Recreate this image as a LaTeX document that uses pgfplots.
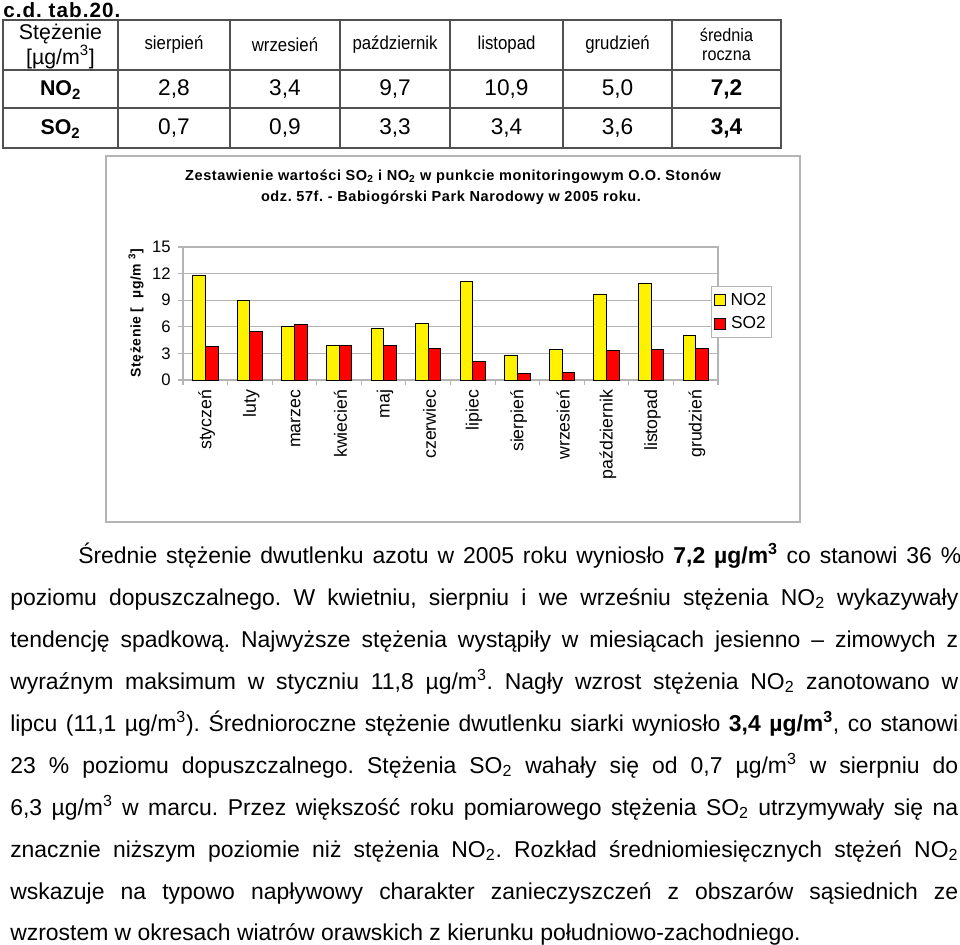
\documentclass[border=0pt]{standalone}
\usepackage{pgfplots}
\pgfplotsset{compat=1.18}
\usepackage{fontspec}
\setmainfont{Liberation Sans}
\newfontfamily\spb{Liberation Sans}[LetterSpace=4]
\newfontfamily\spc{Liberation Sans}[LetterSpace=5]
\newfontfamily\narrow{Liberation Sans}[FakeStretch=0.9]
\definecolor{gridgray}{HTML}{B4B4B4}
\definecolor{tabline}{HTML}{505050}
\newcommand{\ug}{\textmu g/m\textsuperscript{3}}
\frenchspacing
\begin{document}
\begin{tikzpicture}
\path[use as bounding box] (0,0) rectangle (720pt,-708.75pt);
\begin{scope}[x=0.75pt,y=-0.75pt]
% ---------- table ----------
\node[anchor=base west,inner sep=0pt,font=\spc\bfseries\fontsize{15.5}{17}\selectfont] at (3,17.5) {c.d. tab.20.};
\draw[tabline,line width=1.5pt] (3,20) rectangle (781,148);
\foreach \xx in {118,230,340,450,563,672} \draw[tabline,line width=0.8pt] (\xx,20) -- (\xx,148);
\foreach \yy in {70,108} \draw[tabline,line width=0.8pt] (3,\yy) -- (781,\yy);
\begin{scope}[every node/.style={inner sep=0pt}]
\node[font=\fontsize{16}{18}\selectfont] at (60.5,34) {Stężenie};
\node[font=\fontsize{16}{18}\selectfont] at (60.5,57) {[\ug]};
\node[font=\narrow\fontsize{14}{16}\selectfont] at (174,45) {sierpień};
\node[font=\narrow\fontsize{14}{16}\selectfont] at (285,45) {wrzesień};
\node[font=\narrow\fontsize{14}{16}\selectfont] at (395,45) {październik};
\node[font=\narrow\fontsize{14}{16}\selectfont] at (506.5,45) {listopad};
\node[font=\narrow\fontsize{14}{16}\selectfont] at (617.5,45) {grudzień};
\node[font=\narrow\fontsize{13.5}{16}\selectfont] at (726.5,35) {średnia};
\node[font=\narrow\fontsize{13.5}{16}\selectfont] at (726.5,56) {roczna};
\node[font=\bfseries\fontsize{16}{18}\selectfont] at (60.5,90) {NO\textsubscript{2}};
\node[font=\fontsize{17}{19}\selectfont] at (174,89) {2,8};
\node[font=\fontsize{17}{19}\selectfont] at (285,89) {3,4};
\node[font=\fontsize{17}{19}\selectfont] at (395,89) {9,7};
\node[font=\fontsize{17}{19}\selectfont] at (506.5,89) {10,9};
\node[font=\fontsize{17}{19}\selectfont] at (617.5,89) {5,0};
\node[font=\bfseries\fontsize{17}{19}\selectfont] at (726.5,89) {7,2};
\node[font=\bfseries\fontsize{16}{18}\selectfont] at (60.5,129) {SO\textsubscript{2}};
\node[font=\fontsize{17}{19}\selectfont] at (174,128) {0,7};
\node[font=\fontsize{17}{19}\selectfont] at (285,128) {0,9};
\node[font=\fontsize{17}{19}\selectfont] at (395,128) {3,3};
\node[font=\fontsize{17}{19}\selectfont] at (506.5,128) {3,4};
\node[font=\fontsize{17}{19}\selectfont] at (617.5,128) {3,6};
\node[font=\bfseries\fontsize{17}{19}\selectfont] at (726.5,128) {3,4};
\end{scope}
% ---------- chart frame and titles ----------
\draw[gridgray,line width=1.2pt] (106,156) rectangle (800,522);
\node[font=\spb\bfseries\fontsize{10.9}{12}\selectfont,inner sep=0pt] at (453,177) {Zestawienie wartości SO\textsubscript{2} i NO\textsubscript{2} w punkcie monitoringowym O.O. Stonów};
\node[font=\spb\bfseries\fontsize{10.9}{12}\selectfont,inner sep=0pt] at (451,198) {odz. 57f. - Babiogórski Park Narodowy w 2005 roku.};
\node[rotate=90,font=\spb\bfseries\fontsize{10.5}{12}\selectfont,inner sep=0pt] at (136,313) {Stężenie [ \ \textmu g/m \textsuperscript{3}]};
% ---------- paragraph ----------
\begin{scope}[every node/.style={anchor=base west,inner sep=0pt,font=\fontsize{17.2}{20}\selectfont}]
\node at (78,563) {\makebox[662.25pt][s]{Średnie stężenie dwutlenku azotu w 2005 roku wyniosło \textbf{7,2 \ug} co stanowi 36 \%}};
\node at (10,605) {\makebox[711pt][s]{poziomu dopuszczalnego. W kwietniu, sierpniu i we wrześniu stężenia NO\textsubscript{2} wykazywały}};
\node at (10,647) {\makebox[711pt][s]{tendencję spadkową. Najwyższe stężenia wystąpiły w miesiącach jesienno – zimowych z}};
\node at (10,689) {\makebox[711pt][s]{wyraźnym maksimum w styczniu 11,8 \ug. Nagły wzrost stężenia NO\textsubscript{2} zanotowano w}};
\node at (10,731) {\makebox[711pt][s]{lipcu (11,1 \ug). Średnioroczne stężenie dwutlenku siarki wyniosło \textbf{3,4 \ug}, co stanowi}};
\node at (10,773) {\makebox[711pt][s]{23 \% poziomu dopuszczalnego. Stężenia SO\textsubscript{2} wahały się od 0,7 \ug{} w sierpniu do}};
\node at (10,815) {\makebox[711pt][s]{6,3 \ug{} w marcu. Przez większość roku pomiarowego stężenia SO\textsubscript{2} utrzymywały się na}};
\node at (10,857) {\makebox[711pt][s]{znacznie niższym poziomie niż stężenia NO\textsubscript{2}. Rozkład średniomiesięcznych stężeń NO\textsubscript{2}}};
\node at (10,899) {\makebox[711pt][s]{wskazuje na typowo napływowy charakter zanieczyszczeń z obszarów sąsiednich ze}};
\node at (10,940) {wzrostem w okresach wiatrów orawskich z kierunku południowo-zachodniego.};
\end{scope}
\end{scope}
% ---------- chart ----------
\begin{axis}[
  at={(137.25pt,-285pt)}, anchor=south west,
  scale only axis, width=401.25pt, height=99.75pt,
  ybar=0pt, bar width=9.5pt,
  xmin=-0.5, xmax=11.5, ymin=0, ymax=15,
  ytick={0,3,6,9,12,15},
  xtick={0,1,2,3,4,5,6,7,8,9,10,11},
  xticklabels={styczeń,luty,marzec,kwiecień,maj,czerwiec,lipiec,sierpień,wrzesień,październik,listopad,grudzień},
  minor xtick={-0.5,0.5,1.5,2.5,3.5,4.5,5.5,6.5,7.5,8.5,9.5,10.5,11.5},
  major x tick style={draw=none},
  tick align=outside, xtick pos=bottom, ytick pos=left,
  major tick length=3.75pt, minor tick length=3.75pt,
  every tick/.style={gridgray, line width=0.8pt},
  ymajorgrids, major grid style={gridgray, line width=0.8pt},
  axis line style={gridgray, line width=0.8pt},
  /pgf/number format/assume math mode=true,
  yticklabel style={font=\fontsize{12.5}{14}\selectfont, xshift=-2pt},
  xticklabel style={font=\fontsize{13.3}{15}\selectfont, rotate=90, anchor=east, yshift=-1pt},
  legend style={at={(0.986,0.707)}, anchor=north west, draw=gridgray, line width=0.6pt,
     font=\fontsize{13}{15}\selectfont, row sep=3pt, inner xsep=2pt, inner ysep=3pt,
     /tikz/every even column/.append style={column sep=2pt}},
  legend image code/.code={\draw[#1,draw=black,line width=0.6pt] (0pt,-4.1pt) rectangle (8.2pt,4.1pt);},
]
\addplot[fill=yellow, draw=black, line width=0.6pt] coordinates {(0,11.8) (1,9.0) (2,6.0) (3,3.9) (4,5.8) (5,6.4) (6,11.1) (7,2.8) (8,3.4) (9,9.7) (10,10.9) (11,5.0)};
\addplot[fill=red, draw=black, line width=0.6pt] coordinates {(0,3.8) (1,5.5) (2,6.3) (3,3.9) (4,3.9) (5,3.6) (6,2.1) (7,0.7) (8,0.9) (9,3.3) (10,3.4) (11,3.6)};
\legend{\hspace{2pt}NO2,\hspace{2pt}SO2}
\end{axis}
\end{tikzpicture}
\end{document}
